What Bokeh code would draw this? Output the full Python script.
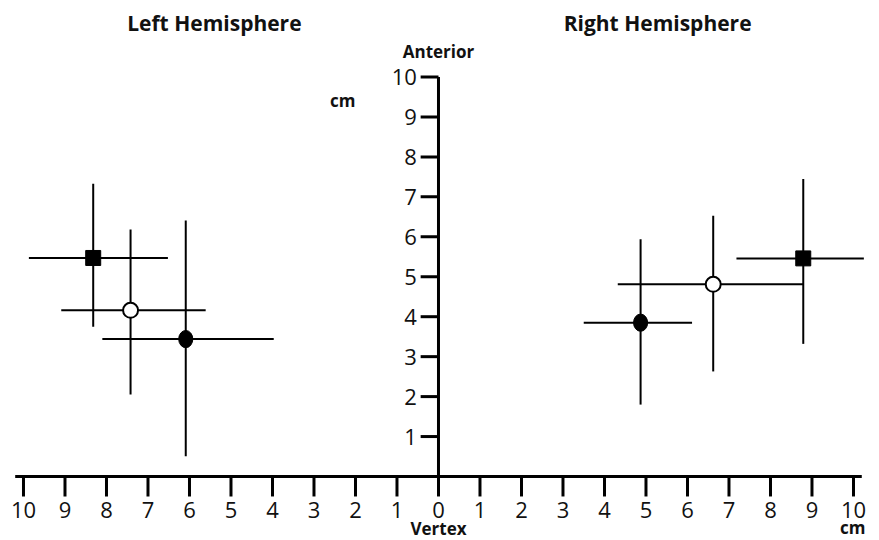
from bokeh.plotting import figure
from bokeh.models import ColumnDataSource, Range1d
from bokeh.core.properties import value
from bokeh.embed import file_html
from bokeh.resources import INLINE

# ---- data (cm); lateral distance from the vertex is positive in each hemisphere ----
# order of the three points: square, open circle, filled circle
left_lat = [8.32, 7.42, 6.09]
left_lat_lo = [6.52, 5.61, 3.97]
left_lat_hi = [9.87, 9.09, 8.10]
left_ant = [5.47, 4.16, 3.44]
left_ant_lo = [3.75, 2.05, 0.51]
left_ant_hi = [7.33, 6.18, 6.41]

right_lat = [8.79, 6.62, 4.87]
right_lat_lo = [7.18, 4.32, 3.50]
right_lat_hi = [10.25, 8.79, 6.11]
right_ant = [5.46, 4.81, 3.85]
right_ant_lo = [3.32, 2.63, 1.80]
right_ant_hi = [7.45, 6.53, 5.94]

point_kinds = ["square", "open", "filled"]

x_ticks = list(range(-10, 11))
x_tick_labels = [str(abs(t)) for t in x_ticks]
y_ticks = list(range(1, 11))
y_tick_labels = [str(t) for t in y_ticks]

FONT = "Open Sans"
X_AXIS_EXTENT = 10.2
Y_AXIS_TOP = 10

p = figure(width=879, height=540, output_backend="svg", toolbar_location=None,
           x_range=Range1d(-10.554, 10.627), y_range=Range1d(-1.602, 11.915),
           x_axis_type=None, y_axis_type=None, min_border=0)
p.outline_line_color = None
p.xgrid.visible = False
p.ygrid.visible = False

# ---- axes drawn at the origin ----
p.segment(x0=[-X_AXIS_EXTENT], y0=[0], x1=[X_AXIS_EXTENT], y1=[0], line_width=3, line_color="black")
p.segment(x0=[0], y0=[0], x1=[0], y1=[Y_AXIS_TOP], line_width=3, line_color="black")
p.segment(x0=x_ticks, y0=[0] * len(x_ticks), x1=x_ticks, y1=[-0.5] * len(x_ticks),
          line_width=3, line_color="black")
p.segment(x0=[-0.43] * len(y_ticks), y0=y_ticks, x1=[0] * len(y_ticks), y1=y_ticks,
          line_width=3, line_color="black")

p.text(x=x_ticks, y=[-0.84] * len(x_ticks), text=x_tick_labels, text_align="center",
       text_baseline="middle", text_font=value(FONT), text_font_size="22px", text_color="#111111")
p.text(x=[-0.52] * len(y_ticks), y=y_ticks, text=y_tick_labels, text_align="right",
       text_baseline="middle", text_font=value(FONT), text_font_size="22px", text_color="#111111")

# ---- error bars and markers ----
for sign, lat, lat_lo, lat_hi, ant, ant_lo, ant_hi in [
        (-1, left_lat, left_lat_lo, left_lat_hi, left_ant, left_ant_lo, left_ant_hi),
        (1, right_lat, right_lat_lo, right_lat_hi, right_ant, right_ant_lo, right_ant_hi)]:
    xs = [sign * v for v in lat]
    src = ColumnDataSource(dict(
        x=xs, y=ant,
        xlo=[sign * v for v in lat_lo], xhi=[sign * v for v in lat_hi],
        ylo=ant_lo, yhi=ant_hi, kind=point_kinds))
    p.segment(x0="xlo", y0="y", x1="xhi", y1="y", source=src, line_width=2, line_color="black")
    p.segment(x0="x", y0="ylo", x1="x", y1="yhi", source=src, line_width=2, line_color="black")
    for kind, x, y in zip(point_kinds, xs, ant):
        if kind == "square":
            p.scatter(x=[x], y=[y], marker="square", size=15, fill_color="black", line_color="black")
        elif kind == "open":
            p.scatter(x=[x], y=[y], marker="circle", size=15, fill_color="white",
                      line_color="black", line_width=2)
        else:
            p.ellipse(x=[x], y=[y], width=0.34, height=0.43, fill_color="black", line_color="black")

# ---- titles and axis captions ----
bold = dict(text_font=value(FONT), text_font_style="bold", text_color="#111111",
            text_align="center", text_baseline="middle")
p.text(x=[-5.40, 5.28], y=[11.34, 11.34], text=["Left Hemisphere", "Right Hemisphere"],
       text_font_size="21px", **bold)
p.text(x=[0], y=[10.64], text=["Anterior"], text_font_size="17px", **bold)
p.text(x=[-2.31], y=[9.42], text=["cm"], text_font_size="17px", **bold)
p.text(x=[0], y=[-1.31], text=["Vertex"], text_font_size="17px", **bold)
p.text(x=[9.98], y=[-1.27], text=["cm"], text_font_size="17px", **bold)

open("out.html", "w").write(file_html(p, INLINE))
